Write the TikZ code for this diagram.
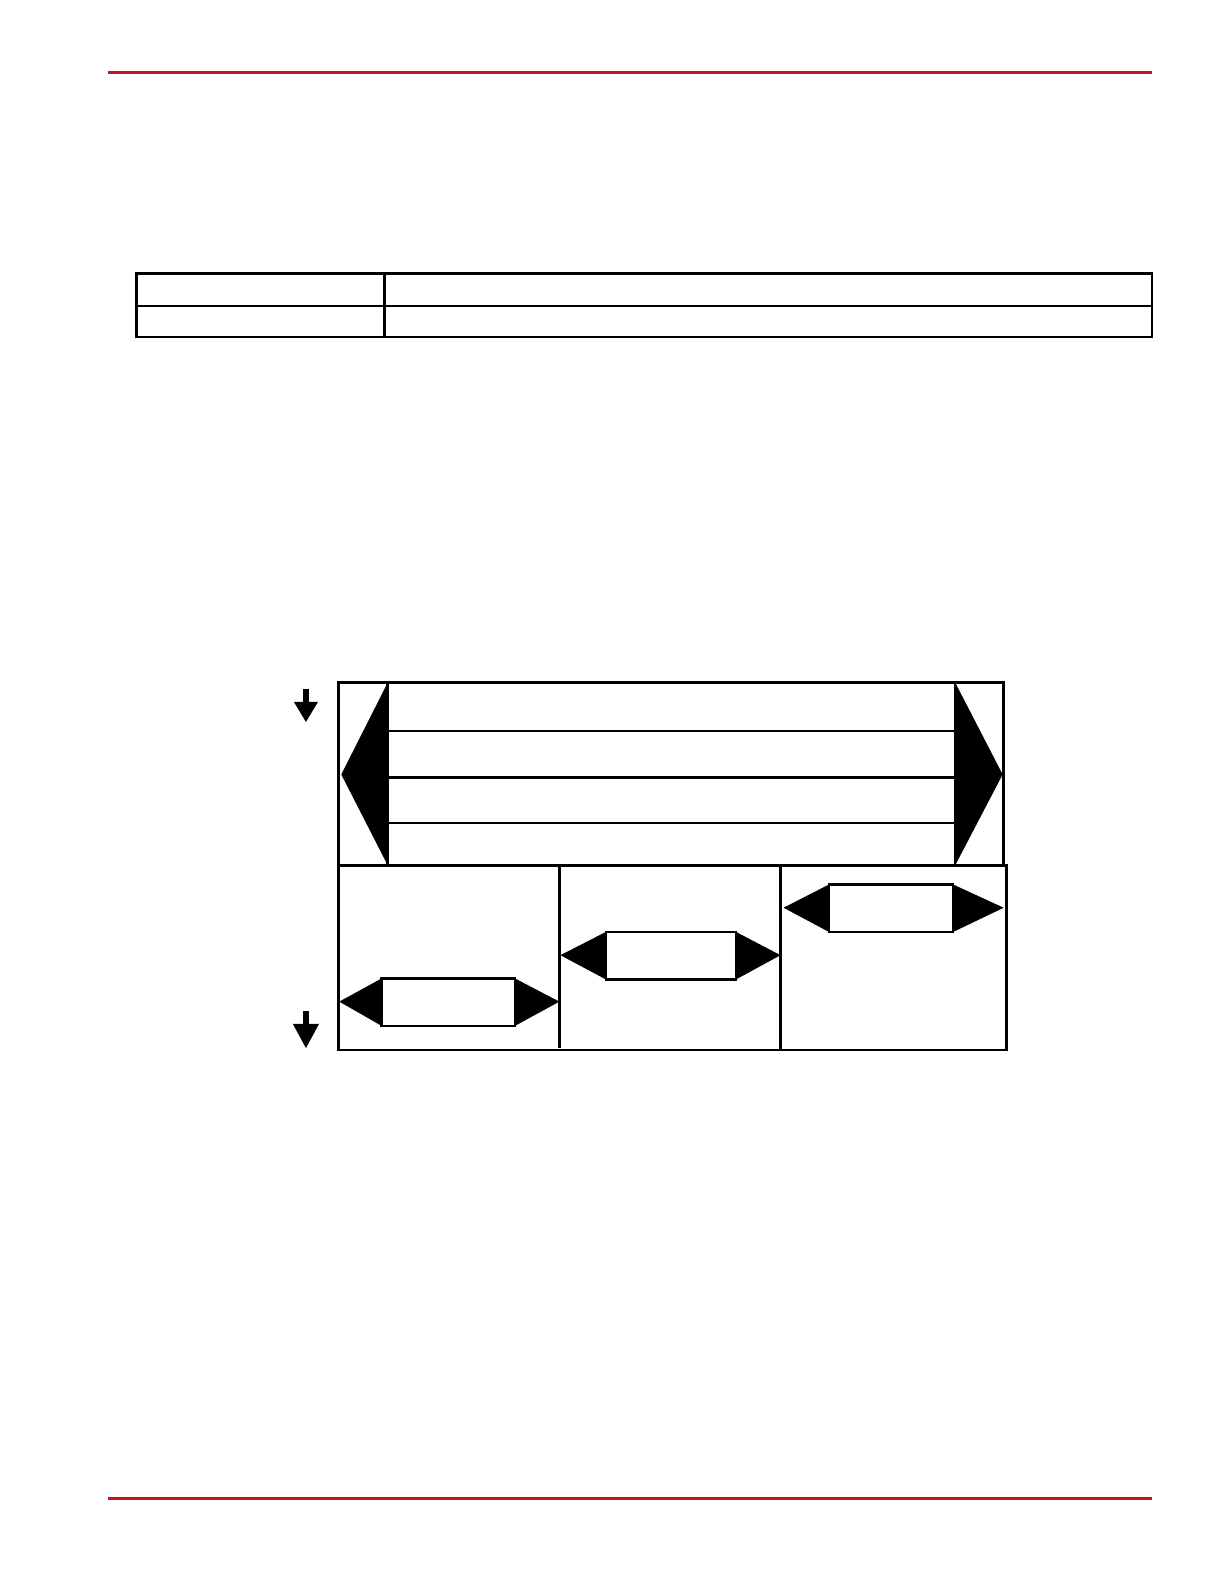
\documentclass[tikz,border=0pt]{standalone}
\definecolor{rulered}{RGB}{204,20,24}
\begin{document}
\begin{tikzpicture}[x=0.5pt,y=-0.5pt,
  frame/.style={draw=black,line width=1.25pt},
  redrule/.style={draw=rulered,line width=1.2pt},
  blk/.style={fill=black},
  hexarrow/.style={draw=black,line width=1.25pt,fill=white}]
\useasboundingbox (0,0) rectangle (1224,1584);
\begin{scope}[scale=1.0097]
% red rules
\draw[redrule] (107,72) -- (1141,72);
\draw[redrule] (107,1484) -- (1141,1484);
% table
\draw[frame] (135,271) rectangle (1141,334);
\draw[frame] (135,303) -- (1141,303);
\draw[frame] (381,271) -- (381,334);
% top section
\draw[frame] (335,676) rectangle (994,857);
% bottom section
\draw[frame] (335,857) -- (335,1040) -- (997,1040) -- (997,857) -- (994,857);
% top section rows
\draw[frame] (384,676) -- (384,857);
\draw[frame] (946,676) -- (946,857);
\draw[frame] (384,724) -- (946,724);
\draw[frame] (384,770) -- (946,770);
\draw[frame] (384,815) -- (946,815);
% big triangles
\fill[blk] (384,676) -- (338,767) -- (384,857) -- cycle;
\fill[blk] (946,676) -- (993,767) -- (946,857) -- cycle;
% bottom section columns
\draw[frame] (554,857) -- (554,1038);
\draw[frame] (773,857) -- (773,1040);
% hex arrows
\fill[blk] (378,969) -- (336,992) -- (378,1016) -- cycle;
\fill[blk] (510,969) -- (554,992) -- (510,1016) -- cycle;
\draw[hexarrow] (378,969) rectangle (510,1016);
\fill[blk] (600,923) -- (555,946) -- (600,970) -- cycle;
\fill[blk] (729,923) -- (773,946) -- (729,970) -- cycle;
\draw[hexarrow] (600,923) rectangle (729,970);
\fill[blk] (821,876) -- (776,899) -- (821,923) -- cycle;
\fill[blk] (944,876) -- (994,899) -- (944,923) -- cycle;
\draw[hexarrow] (821,876) rectangle (944,923);
% small down arrows
\fill[blk] (300,682) rectangle (306,696);
\fill[blk] (291,695) -- (315,695) -- (303,715) -- cycle;
\fill[blk] (300,1001) rectangle (306,1015);
\fill[blk] (290,1014) -- (316,1014) -- (303,1038) -- cycle;
\end{scope}
\end{tikzpicture}
\end{document}
